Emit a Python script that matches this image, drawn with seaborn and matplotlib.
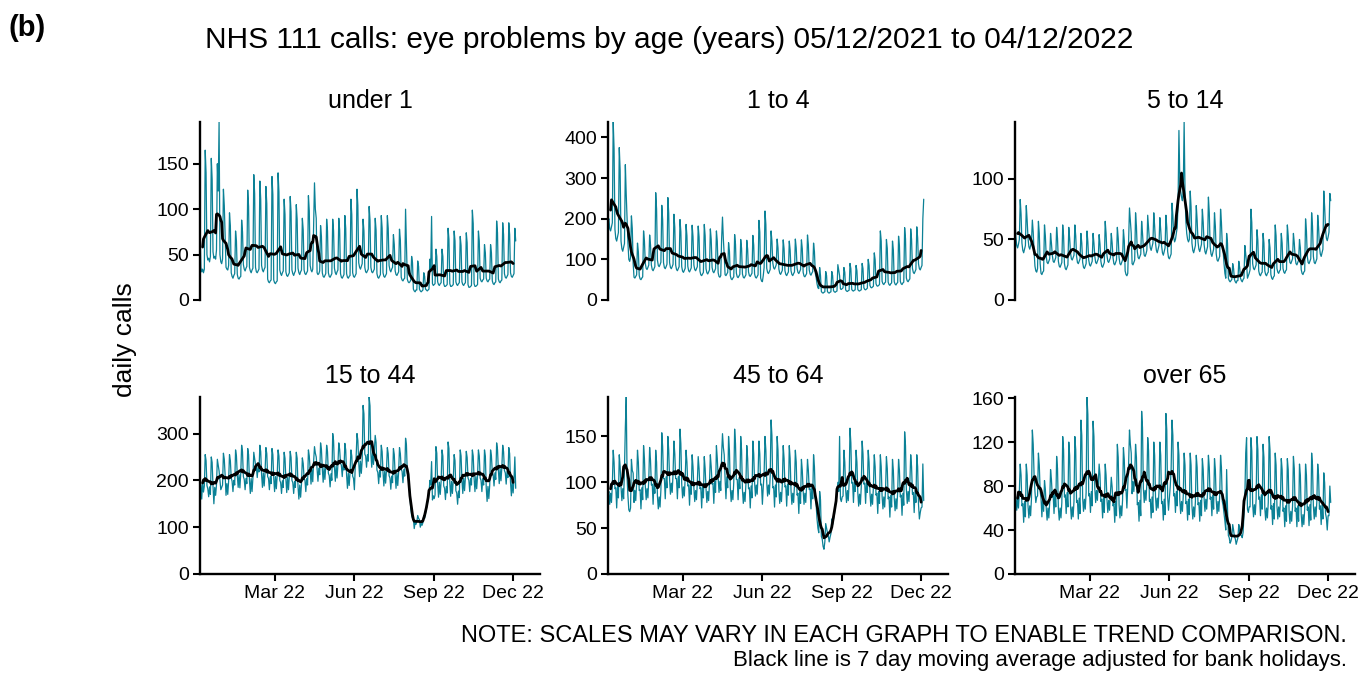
import pandas as pd
import seaborn as sns
import matplotlib.pyplot as plt

# --------------------------
# Data: daily NHS 111 calls, one line per week (Sun..Sat),
# first day 05/12/2021, last line is Sun 04/12/2022
# --------------------------
start_date = "2021-12-05"
panel_titles = ["under 1", "1 to 4", "5 to 14", "15 to 44", "45 to 64", "over 65"]
y_ticks = [[0, 50, 100, 150], [0, 100, 200, 300, 400], [0, 50, 100],
           [0, 100, 200, 300], [0, 50, 100, 150], [0, 40, 80, 120, 160]]
x_ticks = ["2022-03-01", "2022-06-01", "2022-09-01", "2022-12-01"]
x_tick_labels = ["Mar 22", "Jun 22", "Sep 22", "Dec 22"]

under_1 = """
78 36 31 34 30 34 165
140 50 44 46 42 48 156
133 53 46 48 45 55 150
120 196 50 42 40 45 122
104 70 36 34 33 38 96
82 30 26 24 27 29 76
65 28 24 23 25 26 88
75 39 34 32 35 37 121
103 36 32 30 33 35 138
117 36 31 30 32 34 131
111 38 33 31 34 36 125
106 23 20 19 21 22 136
116 22 19 18 20 21 140
119 33 29 27 30 32 111
94 31 27 26 28 30 114
97 33 29 27 30 32 105
89 35 30 28 31 33 90
77 33 29 28 30 32 115
98 38 33 31 34 80 129
100 90 30 28 29 32 82
70 30 26 25 27 29 89
76 30 26 25 27 29 89
76 35 30 28 31 33 90
77 29 25 24 26 28 93
79 29 25 24 26 27 111
94 30 26 25 27 29 122
104 41 36 34 37 40 89
76 36 31 30 32 34 103
88 36 31 30 32 34 90
77 29 25 24 26 28 93
79 30 26 25 27 29 93
79 38 33 31 34 36 72
61 32 28 27 29 31 78
66 25 22 21 23 24 100
60 23 20 19 20 22 48
41 12 10 9 11 11 43
37 12 10 9 10 11 30
26 12 11 10 11 12 45
35 92 18 16 17 18 56
48 20 17 16 18 19 56
48 18 15 15 16 17 79
67 18 15 15 16 17 76
65 20 17 16 18 19 70
60 20 17 16 18 19 74
63 17 14 14 15 16 99
84 18 15 15 16 17 76
65 24 21 20 22 23 61
52 24 21 20 22 23 61
52 21 18 17 19 20 87
74 23 20 19 21 22 85
72 29 25 24 26 28 85
72 30 26 25 27 29 79
65
"""

age_1_4 = """
195 200 175 170 180 190 438
372 174 151 145 155 166 375
319 145 126 120 130 139 333
260 200 140 100 95 105 207
176 90 56 54 58 62 140
119 60 52 50 54 57 170
145 90 78 75 80 86 160
136 86 75 72 77 82 264
224 98 85 82 87 93 233
198 92 80 77 82 88 252
214 92 80 77 82 88 211
179 86 75 72 77 82 198
168 82 71 68 73 78 186
158 83 72 69 74 79 184
156 86 75 72 77 82 182
155 71 62 60 64 68 186
158 77 67 64 69 74 175
149 80 70 67 72 77 170
145 67 58 56 60 150 204
150 110 62 60 64 68 141
120 60 52 50 54 57 161
137 66 57 55 59 63 149
127 64 56 54 58 62 147
125 69 60 58 62 66 159
135 64 56 54 58 62 196
167 54 47 45 60 80 219
186 78 68 65 70 75 170
145 91 79 76 81 87 150
128 76 66 63 68 73 148
126 72 63 60 65 69 145
123 72 63 60 65 69 150
128 78 68 65 70 75 148
126 68 59 57 61 65 160
136 74 64 61 66 70 140
119 66 55 40 30 28 80
60 21 18 17 19 20 70
60 21 18 17 19 20 70
60 23 20 19 21 22 87
74 60 27 26 28 30 80
68 25 22 21 23 24 90
77 26 23 22 24 25 85
72 26 23 22 24 25 90
77 30 26 25 27 29 100
85 36 31 30 32 34 116
99 40 35 34 36 38 170
145 46 40 38 42 44 149
127 44 38 36 40 42 145
123 45 39 37 41 43 157
133 46 40 38 42 44 178
151 54 47 45 49 52 175
149 78 68 65 70 75 180
153 89 77 74 80 85 200
248
"""

age_5_14 = """
65 52 45 43 46 50 83
71 47 41 39 42 45 78
66 51 44 42 45 48 66
56 40 28 24 23 26 65
55 30 22 21 23 24 62
53 36 31 30 32 34 55
47 37 32 31 33 35 60
51 32 28 27 29 31 62
53 30 26 25 27 29 60
51 39 34 33 35 37 62
53 36 31 30 32 34 55
47 31 27 26 28 30 57
48 33 29 28 30 32 55
47 36 31 30 32 34 54
46 32 28 27 29 31 65
55 37 32 31 33 35 55
47 35 30 29 31 33 60
51 35 30 29 31 33 58
49 24 21 20 22 50 76
65 55 30 29 31 33 72
61 40 35 34 36 38 65
55 43 37 36 38 41 70
60 49 43 41 44 47 72
61 47 41 39 42 45 68
58 45 39 37 40 43 70
60 40 35 34 36 38 80
70 52 48 50 55 60 80
140 100 90 85 82 90 147
90 65 55 50 48 50 90
77 47 41 39 42 45 78
66 48 42 40 43 46 75
64 46 40 38 41 44 85
72 44 38 36 39 42 72
61 38 33 32 34 36 75
64 45 40 30 22 18 55
47 18 16 15 16 17 30
26 17 15 14 16 16 32
27 18 16 15 17 18 45
38 30 18 20 22 25 75
64 30 26 25 27 29 58
49 24 21 20 22 23 55
47 24 21 20 22 23 50
43 21 18 17 19 20 62
53 26 23 22 24 25 55
47 26 23 22 24 25 62
53 36 31 30 32 34 55
47 35 30 29 31 33 50
43 25 22 21 23 24 67
57 36 31 30 32 34 72
61 36 31 30 32 34 70
60 44 38 36 39 42 90
77 59 51 49 52 56 88
82
"""

age_15_44 = """
197 190 160 196 175 188 255
242 189 182 165 186 170 250
238 187 150 185 168 190 245
233 220 200 180 185 190 258
245 210 168 193 170 198 255
242 205 198 176 200 190 265
252 211 185 212 184 215 275
261 208 202 180 204 193 268
255 200 172 204 176 205 260
247 233 228 206 230 218 275
261 212 185 216 188 217 270
257 208 204 180 208 193 268
255 205 176 208 182 210 265
252 200 195 172 199 185 260
247 203 174 206 180 208 262
249 200 195 172 198 185 260
247 187 160 190 164 192 248
236 205 200 176 204 190 265
252 220 192 223 197 240 272
258 250 224 198 226 212 280
266 225 196 228 202 230 275
261 215 210 186 214 200 300
285 228 198 231 205 233 280
266 237 232 208 236 222 279
265 212 183 215 189 217 265
252 209 204 180 230 250 300
285 238 208 241 215 243 360
342 256 252 228 255 241 378
359 258 228 260 234 262 296
281 222 217 193 221 207 275
261 217 188 220 194 222 270
257 210 205 181 209 195 268
255 212 183 215 189 217 270
257 224 219 195 223 209 290
276 215 205 195 170 140 125
119 119 97 110 106 112 125
119 116 100 108 104 110 125
119 130 140 150 160 170 200
190 240 158 167 161 169 272
258 193 164 196 170 198 265
252 188 183 159 187 173 282
268 195 166 198 172 200 255
242 178 173 149 177 163 265
252 201 172 204 178 206 262
249 205 200 176 204 190 265
252 205 176 208 182 210 265
252 205 200 176 204 190 265
252 184 155 187 161 189 265
252 217 212 188 216 202 280
266 222 193 225 199 227 275
261 221 216 192 220 206 270
257 196 167 199 173 201 250
183
"""

age_45_64 = """
86 90 76 88 78 97 135
122 93 94 72 96 83 130
117 95 80 93 82 115 160
193 105 85 70 68 72 125
113 110 78 91 80 99 135
122 91 92 71 94 81 140
126 96 81 93 83 103 138
124 97 98 76 100 88 135
122 85 71 84 73 92 154
139 104 104 82 106 94 150
135 103 87 99 89 109 145
131 104 104 82 106 94 158
142 98 83 95 85 105 135
122 96 97 75 99 87 130
117 94 79 91 81 100 128
115 93 94 72 96 83 128
115 93 78 90 80 99 130
117 98 99 77 101 89 140
126 105 89 101 91 130 153
138 130 104 82 106 94 150
135 94 79 91 81 100 158
142 103 103 81 105 93 150
135 92 77 89 79 98 140
126 93 94 72 96 83 145
131 100 85 97 87 107 145
131 97 98 76 95 110 150
135 100 85 97 87 107 168
151 94 95 73 97 84 150
135 92 77 89 79 98 140
126 95 96 74 98 86 140
126 91 76 88 78 97 135
122 86 88 66 90 77 125
113 91 76 88 78 97 125
113 92 93 71 95 82 130
117 85 75 60 50 45 90
81 41 38 30 27 35 55
50 45 42 35 40 44 60
54 60 65 75 80 88 100
90 150 82 79 84 85 135
122 92 78 91 80 99 159
143 99 100 78 102 90 135
122 89 74 87 76 95 145
131 98 99 77 101 89 135
122 89 74 87 76 95 130
117 86 88 66 90 77 130
117 85 71 84 73 92 128
115 82 84 62 86 73 125
113 83 69 82 71 90 125
113 84 86 64 88 75 155
140 92 77 90 79 98 130
117 87 89 67 91 78 130
117 76 60 67 72 73 120
80
"""

over_65 = """
50 70 58 69 60 75 100
90 62 64 47 66 52 100
90 62 51 62 53 69 131
118 90 75 65 70 71 110
99 75 69 52 71 57 85
77 60 49 60 51 65 95
86 70 72 55 74 61 107
96 60 49 60 51 65 125
113 70 72 55 74 61 120
108 62 50 61 52 66 125
113 65 67 50 69 55 140
126 69 57 68 59 74 161
145 71 73 56 75 62 139
125 78 65 76 67 82 100
90 66 68 51 70 56 100
90 68 56 67 58 73 88
79 62 64 47 66 53 118
106 63 51 62 53 67 115
104 76 77 60 79 100 131
118 110 73 84 75 90 118
106 63 65 48 67 53 148
133 78 65 76 67 82 124
112 66 68 51 70 56 120
108 70 58 69 60 75 120
108 64 66 49 68 54 146
131 70 58 69 80 95 140
126 71 73 56 75 62 120
108 67 55 66 57 71 110
99 64 66 49 68 54 110
99 62 50 61 52 66 108
97 63 65 48 67 53 105
95 69 57 68 59 74 108
97 68 70 53 72 59 105
95 67 55 66 57 71 108
97 66 62 55 48 40 95
60 35 33 28 30 34 45
40 34 32 27 30 33 45
40 36 35 33 38 55 70
110 124 59 56 61 61 124
112 64 52 63 54 68 125
113 68 70 53 72 59 118
106 60 49 60 51 65 125
113 59 62 45 64 50 110
99 62 50 61 52 66 105
95 57 60 43 62 48 105
95 57 46 57 48 62 107
96 57 60 43 62 48 100
90 54 43 54 45 59 100
90 58 61 44 63 49 110
99 62 50 61 52 66 100
90 59 62 45 64 50 92
83 55 51 40 53 53 80
65
"""

panel_data = [under_1, age_1_4, age_5_14, age_15_44, age_45_64, over_65]

TEAL = "#0b8196"
W, H = 1363, 673

# axes boxes in pixels: left, top, width, height
boxes = [(200, 122, 340, 178), (608, 122, 340, 178), (1015, 122, 340, 178),
         (200, 397, 340, 177), (608, 397, 340, 177), (1015, 397, 340, 177)]

sns.set_style("white")
plt.rcParams["font.family"] = ["Liberation Sans", "DejaVu Sans"]
plt.rcParams["text.color"] = "black"
plt.rcParams["axes.titlecolor"] = "black"

fig = plt.figure(figsize=(W / 100, H / 100), dpi=100)

for i, (title, raw) in enumerate(zip(panel_titles, panel_data)):
    calls = [int(v) for v in raw.split()]
    dates = pd.date_range(start_date, periods=len(calls), freq="D")
    df = pd.DataFrame({"date": dates, "calls": calls})
    df["avg"] = df["calls"].rolling(7, center=True).mean()

    l, t, w, h = boxes[i]
    ax = fig.add_axes([l / W, 1 - (t + h) / H, w / W, h / H])
    sns.lineplot(data=df, x="date", y="calls", ax=ax, color=TEAL, lw=0.9)
    sns.lineplot(data=df, x="date", y="avg", ax=ax, color="black", lw=2.0)

    ax.set_xlim(pd.Timestamp("2021-12-05"), pd.Timestamp("2023-01-01"))
    ax.set_ylim(0, df["calls"].max())
    ax.set_yticks(y_ticks[i])
    ax.set_xlabel("")
    ax.set_ylabel("")
    ax.set_title(title, fontsize=18, pad=10, color="black")

    for side in ["top", "right"]:
        ax.spines[side].set_visible(False)
    ax.spines["left"].set_linewidth(1.7)
    ax.spines["left"].set_color("black")
    ax.tick_params(axis="y", direction="out", length=5, width=1.5,
                   labelsize=14, pad=3, colors="black", left=True)

    if i < 3:
        ax.spines["bottom"].set_visible(False)
        ax.set_xticks([])
    else:
        ax.spines["bottom"].set_linewidth(1.7)
        ax.spines["bottom"].set_color("black")
        ax.set_xticks(pd.to_datetime(x_ticks))
        ax.set_xticklabels(x_tick_labels)
        ax.tick_params(axis="x", direction="out", length=5, width=1.5,
                       labelsize=14, pad=3, colors="black", bottom=True)

fig.text(0.006, 0.958, "(b)", fontsize=21, fontweight="bold", va="center")
fig.text(0.491, 0.941, "NHS 111 calls: eye problems by age (years) 05/12/2021 to 04/12/2022",
         fontsize=21.5, ha="center", va="center")
fig.text(0.092, 0.495, "daily calls", fontsize=19, rotation=90, ha="center", va="center")
fig.text(0.988, 0.055, "NOTE: SCALES MAY VARY IN EACH GRAPH TO ENABLE TREND COMPARISON.",
         fontsize=17, ha="right", va="center")
fig.text(0.988, 0.019, "Black line is 7 day moving average adjusted for bank holidays.",
         fontsize=16, ha="right", va="center")

fig.savefig("out.png", dpi=100)
